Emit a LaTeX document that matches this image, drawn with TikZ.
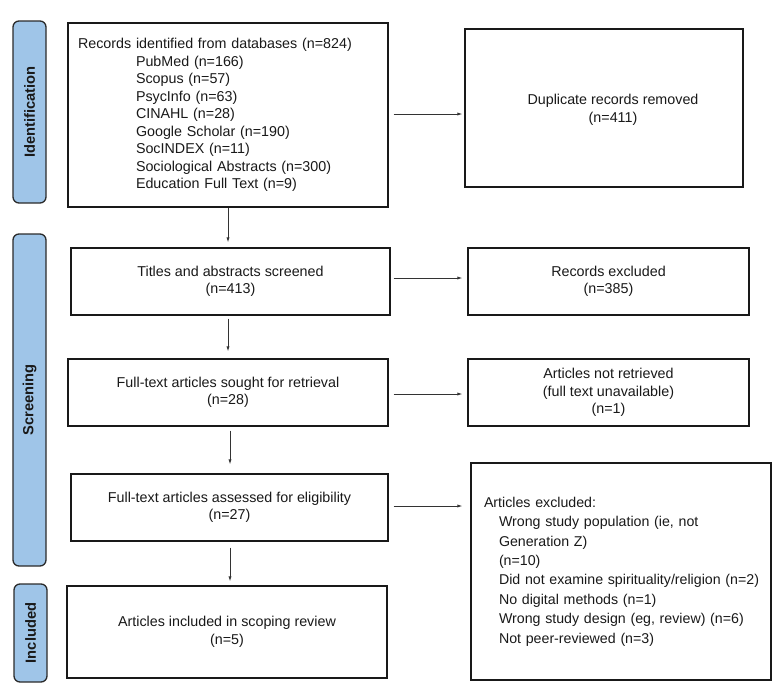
\documentclass[tikz,border=0pt]{standalone}
\usepackage{fontspec}
\setmainfont{Liberation Sans}
\usetikzlibrary{arrows.meta}
\definecolor{sideblue}{HTML}{9FC5E8}
\definecolor{sideline}{HTML}{2B2B2B}
\definecolor{arrowgray}{HTML}{333333}
\begin{document}
\begin{tikzpicture}[x=1pt,y=-1pt,
  every node/.style={font=\fontsize{14.3}{17.5}\selectfont, text=black!90},
  box/.style={draw=black!90, line width=1.3pt, fill=white, inner sep=0pt, align=center},
  side/.style={draw=sideline, line width=1.3pt, fill=sideblue, rounded corners=6pt, rotate=90,
    minimum height=33pt, inner sep=0pt, font=\fontsize{14.7}{16}\selectfont\bfseries},
  arr/.style={draw=arrowgray, line width=0.8pt, -{Latex[length=5pt,width=3.2pt]}}]
\useasboundingbox (0,0) rectangle (780,694);
% phase bars
\node[side, minimum width=182pt] (sid) at (29.5,112) {Identification};
\node[side, minimum width=332pt] (sscr) at (29.5,400) {Screening};
\node[side, minimum width=98pt] (sinc) at (30.5,633) {Included};
% main column
\node[box, minimum width=320pt, minimum height=184pt, text width=300pt, align=left] (ident) at (228,115)
 {Records identified from databases (n=824)\\
  \hspace*{58pt}PubMed (n=166)\\
  \hspace*{58pt}Scopus (n=57)\\
  \hspace*{58pt}PsycInfo (n=63)\\
  \hspace*{58pt}CINAHL (n=28)\\
  \hspace*{58pt}Google Scholar (n=190)\\
  \hspace*{58pt}SocINDEX (n=11)\\
  \hspace*{58pt}Sociological Abstracts (n=300)\\
  \hspace*{58pt}Education Full Text (n=9)};
\node[box, minimum width=319pt, minimum height=67pt] (titles) at (230.5,281.5)
 {Titles and abstracts screened\\(n=413)};
\node[box, minimum width=320pt, minimum height=67pt] (sought) at (228,392.5)
 {Full-text articles sought for retrieval\\(n=28)};
\node[box, minimum width=317pt, minimum height=67pt] (assess) at (229.5,507.5)
 {Full-text articles assessed for eligibility\\(n=27)};
\node[box, minimum width=320pt, minimum height=92pt] (incl) at (227,632)
 {Articles included in scoping review\\(n=5)};
% right column
\node[box, minimum width=278pt, minimum height=158pt] (dup) at (604,108) {};
\node[align=center] (duptext) at (613,110) {Duplicate records removed\\(n=411)};
\node[box, minimum width=281pt, minimum height=67pt] (recex) at (608.5,281.5)
 {Records excluded\\(n=385)};
\node[box, minimum width=281pt, minimum height=67pt] (notret) at (608.5,392.5)
 {Articles not retrieved\\(full text unavailable)\\(n=1)};
\node[box, minimum width=300pt, minimum height=217pt, text width=285pt, align=left,
      font=\fontsize{14.2}{19.4}\selectfont] (excl) at (621,571.5)
 {\hspace*{5.5pt}Articles excluded:\\
  \hspace*{20.5pt}Wrong study population (ie, not\\
  \hspace*{20.5pt}Generation Z)\\
  \hspace*{20.5pt}(n=10)\\
  \hspace*{20.5pt}Did not examine spirituality/religion (n=2)\\
  \hspace*{20.5pt}No digital methods (n=1)\\
  \hspace*{20.5pt}Wrong study design (eg, review) (n=6)\\
  \hspace*{20.5pt}Not peer-reviewed (n=3)};
% horizontal connectors
\draw[arr, shorten <=5pt, shorten >=2pt] (ident.east) ++(0,-1) coordinate (a1) -- (a1 -| dup.west);
\draw[arr, shorten <=3pt, shorten >=5pt] (titles.east) ++(0,-3.5) coordinate (a2) -- (a2 -| recex.west);
\draw[arr, shorten <=5pt, shorten >=5pt] (sought.east) ++(0,1.5) coordinate (a3) -- (a3 -| notret.west);
\draw[arr, shorten <=5pt, shorten >=8pt] (assess.east) ++(0,-1.5) coordinate (a4) -- (a4 -| excl.west);
% vertical connectors
\draw[arr, shorten >=5pt] (ident.south) -- (ident.south |- titles.north);
\draw[arr, shorten <=3pt, shorten >=7pt] (titles.south) ++(-2.5,0) coordinate (v2) -- (v2 |- sought.north);
\draw[arr, shorten <=4pt, shorten >=9pt] (sought.south) ++(2,0) coordinate (v3) -- (v3 |- assess.north);
\draw[arr, shorten <=6pt, shorten >=4pt] (assess.south) ++(0.5,0) coordinate (v4) -- (v4 |- incl.north);
\end{tikzpicture}
\end{document}
